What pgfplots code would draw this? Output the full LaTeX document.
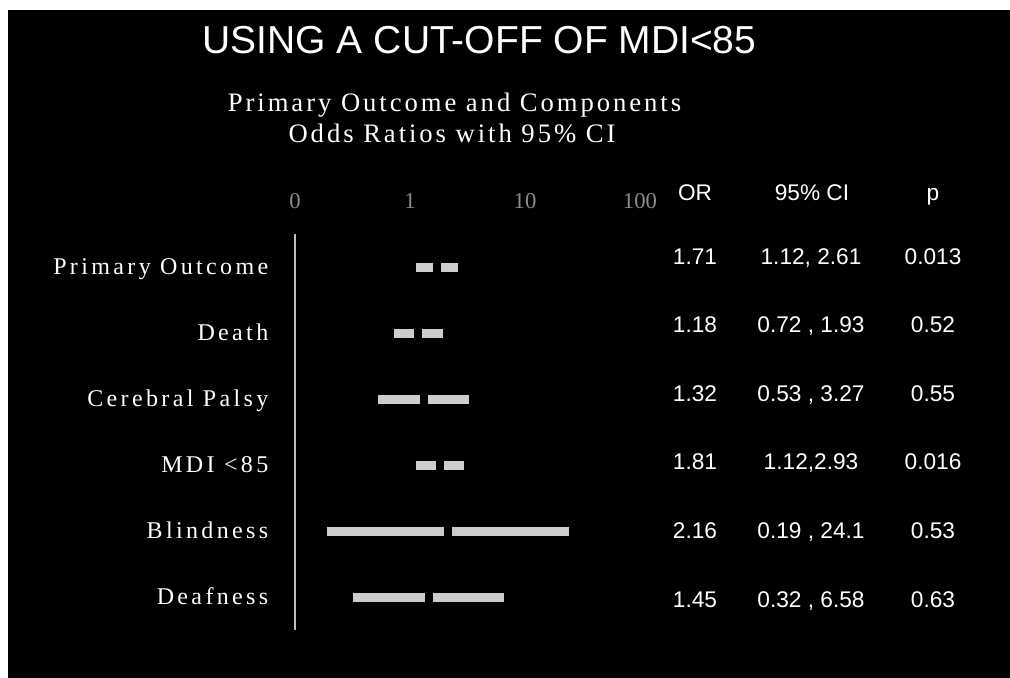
\documentclass[border=0pt]{standalone}
\usepackage{pgfplots}
\pgfplotsset{compat=1.18}
\usepackage{fontspec}
\setmainfont{Liberation Serif}
\newfontfamily\sansf{Liberation Sans}
\newfontfamily\labf[LetterSpace=14]{Liberation Serif}
\newfontfamily\subf[LetterSpace=11]{Liberation Serif}
\definecolor{barcol}{RGB}{205,205,205}
\definecolor{tickcol}{RGB}{140,140,140}
\definecolor{axcol}{RGB}{190,190,190}
\begin{document}
\begin{tikzpicture}
\fill[white] (0pt,0pt) rectangle (757.5pt,-508.5pt);
\fill[black] (6pt,-7.5pt) rectangle (757.5pt,-508.5pt);
\begin{axis}[at={(221.25pt,-175.5pt)}, anchor=north west, scale only axis,
  width=258.75pt, height=297pt,
  xmode=log, log basis x=10, xmin=0.1, xmax=100, ymin=0.5, ymax=6.5, y dir=reverse,
  axis x line=top, axis y line=left, axis line style={-},
  x axis line style={draw=none},
  y axis line style={draw=axcol, line width=1pt},
  xtick={0.1,1,10,100}, xticklabels={0,1,10,100},
  xticklabel style={font=\fontsize{17}{17}\selectfont, text=tickcol, anchor=base, yshift=19.5pt},
  ytick={1,2,3,4,5,6},
  yticklabels={Primary Outcome,Death,Cerebral Palsy,MDI <85,Blindness,Deafness},
  yticklabel style={font=\labf\fontsize{18}{18}\selectfont, text=white, anchor=base east, yshift=-5.8pt, xshift=-16.5pt},
  major tick length=0pt, tick style={draw=none},
  clip=false]
\addplot[barcol, line width=6.75pt] coordinates {(1.12,1) (2.61,1)};
\addplot[barcol, line width=6.75pt] coordinates {(0.72,2) (1.93,2)};
\addplot[barcol, line width=6.75pt] coordinates {(0.53,3) (3.27,3)};
\addplot[barcol, line width=6.75pt] coordinates {(1.12,4) (2.93,4)};
\addplot[barcol, line width=6.75pt] coordinates {(0.19,5) (24.1,5)};
\addplot[barcol, line width=6.75pt] coordinates {(0.32,6) (6.58,6)};
\addplot[only marks, mark=|, mark size=5pt, mark options={draw=black, line width=6pt}]
  coordinates {(1.71,1) (1.18,2) (1.32,3) (1.81,4) (2.16,5) (1.45,6)};
\end{axis}
\begin{scope}[x=0.75pt, y=-0.75pt, every node/.style={text=white, inner sep=0pt, anchor=base}]
\node[font=\sansf\fontsize{29.25}{30}\selectfont] at (479.5,53) {USING A CUT-OFF OF MDI<85};
\node[font=\subf\fontsize{20}{20}\selectfont] at (454.5,111) {Primary Outcome and Components};
\node[font=\subf\fontsize{20}{20}\selectfont] at (452,142) {Odds Ratios with 95\% CI};
\begin{scope}[every node/.append style={font=\sansf\fontsize{17}{17}\selectfont}]
\node at (695,200) {OR};
\node at (812,200) {95\% CI};
\node at (933,200) {p};
\node at (695,264) {1.71};   \node at (811,264) {1.12, 2.61};   \node at (933,264) {0.013};
\node at (695,332.6) {1.18}; \node at (811,332.6) {0.72 , 1.93}; \node at (933,332.6) {0.52};
\node at (695,401.2) {1.32}; \node at (811,401.2) {0.53 , 3.27}; \node at (933,401.2) {0.55};
\node at (695,469.8) {1.81}; \node at (811,469.8) {1.12,2.93};   \node at (933,469.8) {0.016};
\node at (695,538.4) {2.16}; \node at (811,538.4) {0.19 , 24.1}; \node at (933,538.4) {0.53};
\node at (695,607) {1.45};   \node at (811,607) {0.32 , 6.58};   \node at (933,607) {0.63};
\end{scope}
\end{scope}
\end{tikzpicture}
\end{document}
